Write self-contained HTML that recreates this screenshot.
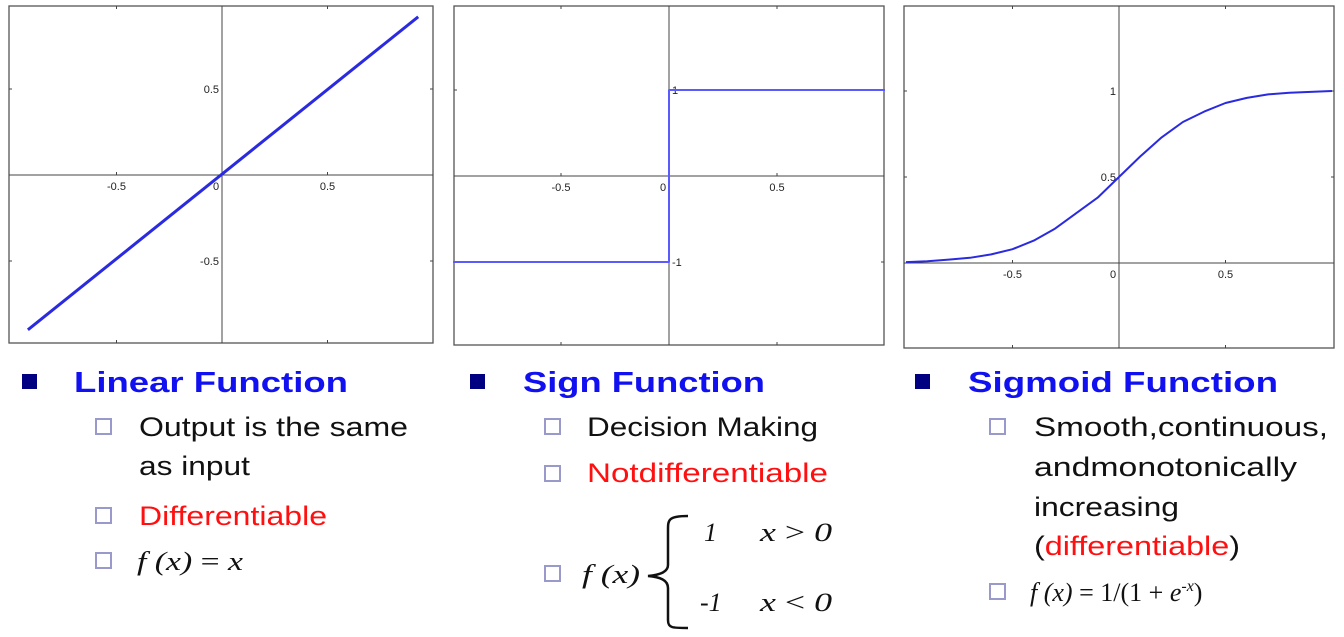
<!DOCTYPE html>
<html><head><meta charset="utf-8">
<style>
html,body{margin:0;padding:0;background:#fff;width:1344px;height:637px;overflow:hidden}
svg{display:block}
.h{font-family:"Liberation Sans",sans-serif;font-weight:bold;font-size:29px;fill:#1010f0}
.s{font-family:"Liberation Sans",sans-serif;font-size:27px;fill:#111}
.r{fill:#ff1010}
.m{font-family:"Liberation Serif",serif;font-style:italic;font-size:26px;fill:#111}
.tk{font-family:"Liberation Sans",sans-serif;font-size:11px;fill:#222}
</style></head>
<body>
<svg id="root" width="1344" height="637" viewBox="0 0 1344 637" xmlns="http://www.w3.org/2000/svg">
<g id="charts"></g>
<g>
<rect x="22" y="374" width="15" height="15" fill="#000080"/>
<text class="h" x="74" y="392" textLength="274" lengthAdjust="spacingAndGlyphs">Linear Function</text>
<rect x="96" y="419" width="15" height="15" fill="none" stroke="#9999cc" stroke-width="2"/>
<text class="s" x="139" y="436" textLength="269" lengthAdjust="spacingAndGlyphs">Output is the same</text>
<text class="s" x="139" y="475" textLength="111" lengthAdjust="spacingAndGlyphs">as input</text>
<rect x="96" y="508" width="15" height="15" fill="none" stroke="#9999cc" stroke-width="2"/>
<text class="s r" x="139" y="525" textLength="188" lengthAdjust="spacingAndGlyphs">Differentiable</text>
<rect x="96" y="553" width="15" height="15" fill="none" stroke="#9999cc" stroke-width="2"/>
<text class="m" x="137" y="570" textLength="106" lengthAdjust="spacingAndGlyphs">f (x) <tspan font-style="normal">=</tspan> x</text>
</g>
<g>
<rect x="470" y="374" width="15" height="15" fill="#000080"/>
<text class="h" x="523" y="392" textLength="242" lengthAdjust="spacingAndGlyphs">Sign Function</text>
<rect x="545" y="419" width="15" height="15" fill="none" stroke="#9999cc" stroke-width="2"/>
<text class="s" x="587" y="436" textLength="231" lengthAdjust="spacingAndGlyphs">Decision Making</text>
<rect x="545" y="466" width="15" height="15" fill="none" stroke="#9999cc" stroke-width="2"/>
<text class="s r" x="587" y="482" textLength="241" lengthAdjust="spacingAndGlyphs">Notdifferentiable</text>
<rect x="545" y="566" width="15" height="15" fill="none" stroke="#9999cc" stroke-width="2"/>
<text class="m" x="582" y="583" textLength="58" lengthAdjust="spacingAndGlyphs">f (x)</text>
<path d="M688,516 C668,516 668,520 668,530 L668,565 C668,572 660,575 648,576 C660,577 668,580 668,588 L668,620 C668,628 672,628 688,628" fill="none" stroke="#111" stroke-width="2.5"/>
<text class="m" x="704" y="541">1</text>
<text class="m" x="760" y="541" textLength="72" lengthAdjust="spacingAndGlyphs">x <tspan font-style="normal">&gt;</tspan> 0</text>
<text class="m" x="700" y="611">-1</text>
<text class="m" x="760" y="611" textLength="72" lengthAdjust="spacingAndGlyphs">x <tspan font-style="normal">&lt;</tspan> 0</text>
</g>
<g>
<rect x="915" y="374" width="15" height="15" fill="#000080"/>
<text class="h" x="968" y="392" textLength="310" lengthAdjust="spacingAndGlyphs">Sigmoid Function</text>
<rect x="990" y="419" width="15" height="15" fill="none" stroke="#9999cc" stroke-width="2"/>
<text class="s" x="1034" y="436" textLength="294" lengthAdjust="spacingAndGlyphs">Smooth,continuous,</text>
<text class="s" x="1034" y="476" textLength="263" lengthAdjust="spacingAndGlyphs">andmonotonically</text>
<text class="s" x="1034" y="516" textLength="145" lengthAdjust="spacingAndGlyphs">increasing</text>
<text class="s" x="1034" y="555" textLength="206" lengthAdjust="spacingAndGlyphs">(<tspan class="r">differentiable</tspan>)</text>
<rect x="990" y="584" width="15" height="15" fill="none" stroke="#9999cc" stroke-width="2"/>
<text class="m" x="1030" y="601">f (x) <tspan font-style="normal">= 1/(1 + </tspan>e<tspan font-size="16" dy="-10">-x</tspan><tspan font-style="normal" dy="10">)</tspan></text>
</g>
</svg>
<script>
// Linear data
const linX = [-0.92, 0.93];
const linY = [-0.90, 0.92];
// Sign data
const signX = [-1.0, 0, 0, 1.0];
const signY = [-1, -1, 1, 1];
// Sigmoid data
const sigX = [-1.0,-0.9,-0.8,-0.7,-0.6,-0.5,-0.4,-0.3,-0.2,-0.1,0,0.1,0.2,0.3,0.4,0.5,0.6,0.7,0.8,0.9,1.0];
const sigY = [0.005,0.01,0.02,0.03,0.05,0.08,0.13,0.2,0.29,0.38,0.5,0.62,0.73,0.82,0.88,0.93,0.96,0.98,0.99,0.995,1.0];
const xTicks = [-0.5, 0, 0.5];
const yTicksLin = [-0.5, 0.5];
const yTicksSign = [-1, 1];
const yTicksSig = [0.5, 1];

const NS = 'http://www.w3.org/2000/svg';
const root = document.getElementById('charts');
function mk(tag, attrs, parent){const e=document.createElementNS(NS,tag);for(const k in attrs)e.setAttribute(k,attrs[k]);parent.appendChild(e);return e;}

const panels = [
 {name:'linear', box:[9,6,433,343], ox:222, oy:175, sx:211, sy:172, xs:linX, ys:linY, yt:yTicksLin, lw:3},
 {name:'sign', box:[454,6,884,345], ox:669, oy:176, sx:216, sy:86, xs:signX, ys:signY, yt:yTicksSign, lw:2},
 {name:'sigmoid', box:[904,6,1334,348], ox:1119, oy:263, sx:213, sy:172, xs:sigX, ys:sigY, yt:yTicksSig, lw:2}
];
panels.forEach(p=>{
  const g = mk('g',{},root);
  
  
  const [x0,y0,x1,y1]=p.box;
  const X=v=>p.ox+v*p.sx, Y=v=>p.oy-v*p.sy;
  const fr=mk('rect',{x:x0,y:y0,width:x1-x0,height:y1-y0,fill:'#fff',stroke:'#555','stroke-width':1.3},g);
  
  
  const ax=mk('line',{x1:x0,x2:x1,y1:p.oy,y2:p.oy,stroke:'#444','stroke-width':1},g);
  
  
  const ay=mk('line',{x1:p.ox,x2:p.ox,y1:y0,y2:y1,stroke:'#444','stroke-width':1},g);
  
  
  xTicks.forEach(t=>{
    const tx=X(t);
    mk('line',{x1:tx,x2:tx,y1:y0,y2:y0+3,stroke:'#444'},g);
    mk('line',{x1:tx,x2:tx,y1:y1,y2:y1-3,stroke:'#444'},g);
    mk('line',{x1:tx,x2:tx,y1:p.oy,y2:p.oy-3,stroke:'#444'},g);
    const lb=mk('text',{x:tx-(t===0?6:0),y:p.oy+15,'text-anchor':'middle',class:'tk'},g);
    lb.textContent=String(t);
    
    
  });
  p.yt.forEach(t=>{
    const ty=Y(t);
    mk('line',{x1:x0,x2:x0+3,y1:ty,y2:ty,stroke:'#444'},g);
    mk('line',{x1:x1,x2:x1-3,y1:ty,y2:ty,stroke:'#444'},g);
    const lb=mk('text',{x:p.name==='sign'?p.ox+3:p.ox-3,y:ty+4,'text-anchor':p.name==='sign'?'start':'end',class:'tk'},g);
    lb.textContent=String(t);
    
    
  });
  const d=p.xs.map((v,i)=>(i?'L':'M')+X(v).toFixed(1)+','+Y(p.ys[i]).toFixed(1)).join(' ');
  const ln=mk('path',{d:d,fill:'none',stroke:p.name==='sign'?'#5a5aff':'#2a2ae0','stroke-width':p.lw,'stroke-linejoin':'round'},g);
  
  
});
</script>
</body></html>
